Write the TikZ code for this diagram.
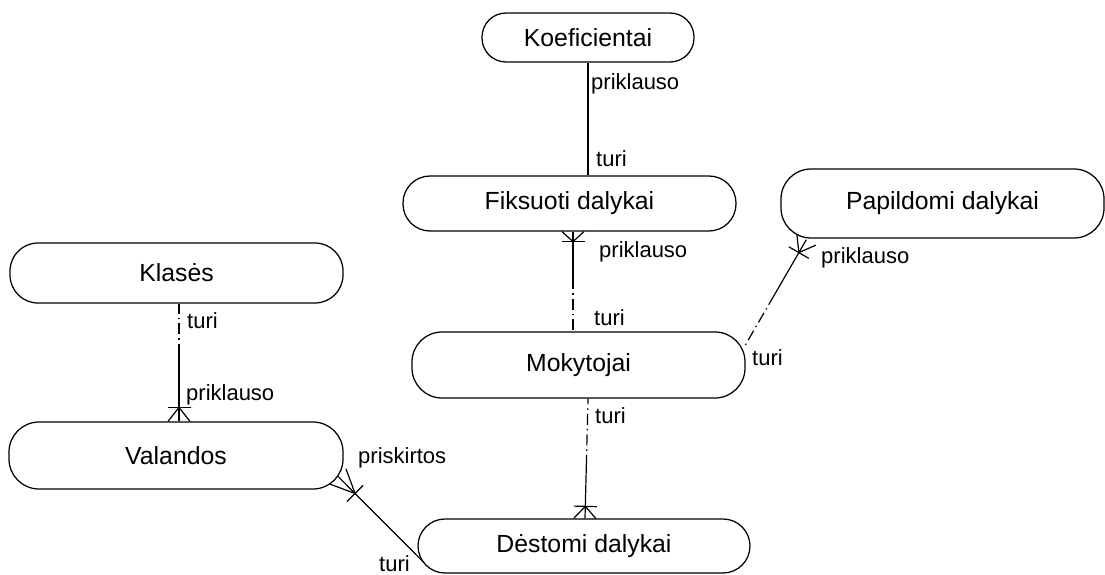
\documentclass[tikz,border=0pt]{standalone}
\usepackage{fontspec}
\setmainfont{Liberation Sans}
\usetikzlibrary{calc}
\tikzset{
  ent/.style={draw, line width=1.25pt, rounded corners=24pt, inner sep=0pt,
    font=\fontsize{24.8}{28}\selectfont},
  lab/.style={anchor=base west, inner sep=0pt, font=\fontsize{22}{26}\selectfont},
  conn/.style={line width=1.2pt},
  erdash/.style={conn, dash pattern=on 11pt off 4pt on 1.5pt off 4pt, dash phase=11pt},
}
\newcommand\ercrow[3]{%
  \coordinate (cb) at ($(#1)!#3!(#2)$);
  \draw[conn] (cb) -- ($(#1)!11pt!90:(#2)$);
  \draw[conn] (cb) -- ($(#1)!11pt!-90:(#2)$);
  \draw[conn] ($(cb)!11.5pt!90:(#2)$) -- ($(cb)!11.5pt!-90:(#2)$);
}
\newcommand\erline[3]{%
  \draw[conn] (#1) -- ($(#1)!#3!(#2)$);
  \draw[erdash] ($(#1)!#3!(#2)$) -- (#2);
}
\begin{document}
\begin{tikzpicture}[x=1pt,y=-1pt]
\useasboundingbox (0,0) rectangle (1105,575);
\fill[white] (0,0) rectangle (1105,575);

% entities
\node[ent, minimum width=212pt, minimum height=49pt] (koef) at (588,37.5) {Koeficientai};
\node[ent, rounded corners=27pt, minimum width=333pt, minimum height=55pt] (fix) at (569.5,203.5) {Fiksuoti dalykai};
\node[ent, rounded corners=30pt, minimum width=323pt, minimum height=69pt] (pap) at (942.5,203.5) {Papildomi dalykai};
\node[ent, rounded corners=28pt, minimum width=333pt, minimum height=60pt] (kla) at (176.5,273) {Klasės};
\node[ent, rounded corners=30pt, minimum width=333pt, minimum height=66pt] (mok) at (578.5,365) {Mokytojai};
\node[ent, rounded corners=30pt, minimum width=334pt, minimum height=67pt] (val) at (176,455.5) {Valandos};
\node[ent, rounded corners=27pt, minimum width=332pt, minimum height=54pt] (des) at (584,546) {Dėstomi dalykai};

% connector end points on the entities
\coordinate (c1a) at (koef.south);
\coordinate (c1b) at (koef.south |- fix.north);
\coordinate (c2a) at ($(fix.south)+(3.5,0)$);
\coordinate (c2b) at ($(mok.north)+(-5.5,0)$);
\coordinate (c3a) at ($(pap.south west)+(26,1)$);
\coordinate (c3b) at ($(mok.east)+(-2,-17)$);
\coordinate (c4a) at ($(val.north)+(3,0)$);
\coordinate (c4b) at ($(kla.south)+(2.5,0)$);
\coordinate (c5a) at ($(des.north)+(1,0)$);
\coordinate (c5b) at ($(mok.south)+(9.5,0)$);
\coordinate (c6a) at ($(val.east)+(-5.5,21)$);
\coordinate (c6b) at ($(des.west)+(7,17)$);

% connectors
\draw[conn] (c1a) -- (c1b);
\erline{c2a}{c2b}{0.58}
\ercrow{c2a}{c2b}{10pt}
\erline{c3a}{c3b}{0.6}
\ercrow{c3a}{c3b}{15pt}
\erline{c4a}{c4b}{0.66}
\ercrow{c4a}{c4b}{14pt}
\erline{c5a}{c5b}{0.53}
\ercrow{c5a}{c5b}{12pt}
\draw[conn] (c6a) -- (c6b);
\ercrow{c6a}{c6b}{24pt}

% role labels
\node[lab] (l1a) at (591,90) {priklauso};
\node[lab] (l1b) at (596,166) {turi};
\node[lab] (l2a) at (599,257) {priklauso};
\node[lab] (l2b) at (594,325) {turi};
\node[lab] (l3a) at (821,263) {priklauso};
\node[lab] (l3b) at (752,365) {turi};
\node[lab] (l4a) at (187,328) {turi};
\node[lab] (l4b) at (186,400) {priklauso};
\node[lab] (l5a) at (595,423) {turi};
\node[lab] (l6a) at (358,463) {priskirtos};
\node[lab] (l6b) at (379,571) {turi};
\end{tikzpicture}
\end{document}
